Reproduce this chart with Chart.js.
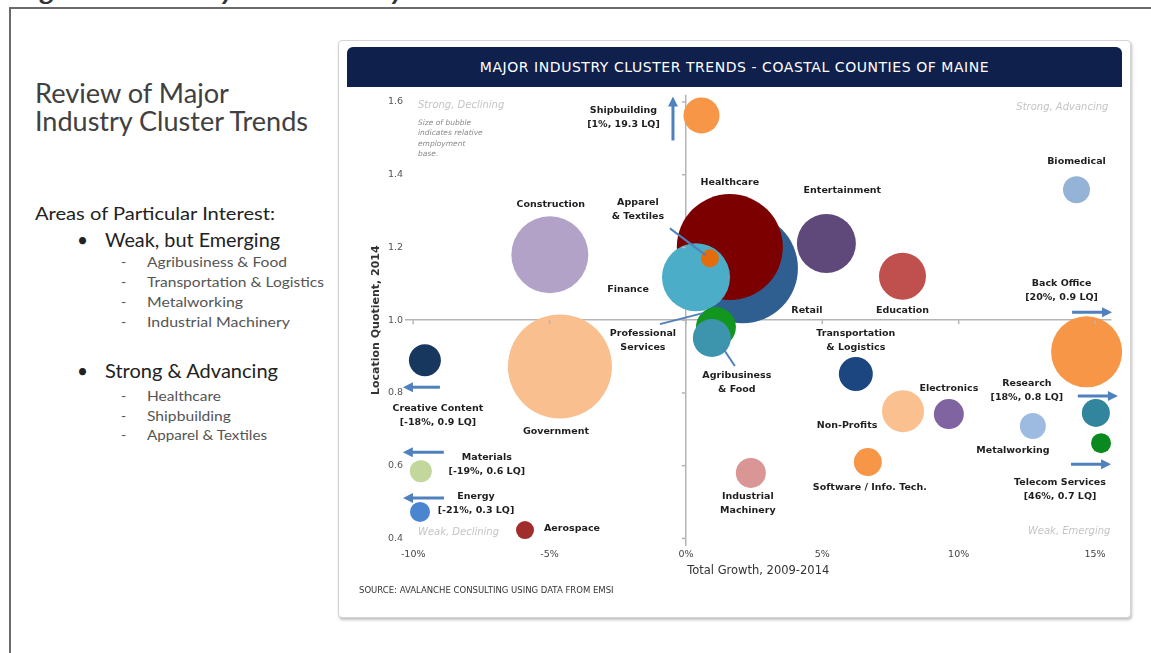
<!DOCTYPE html>
<html>
<head>
<meta charset="utf-8">
<title>Industry Cluster Analysis</title>
<script src="https://cdn.jsdelivr.net/npm/chart.js@4.4.1/dist/chart.umd.min.js"></script>
<style>
  html, body { margin: 0; padding: 0; background: #fff; }
  body { width: 1151px; height: 653px; position: relative; overflow: hidden; }
  #marco { position: absolute; left: 9px; top: 7px; width: 1160px; height: 660px; border-left: 2px solid #6a6a6a; border-top: 2px solid #6a6a6a; }
  #lado { position: absolute; left: 0; top: 0; }
  #tarjeta { position: absolute; left: 338px; top: 40px; width: 791px; height: 576px; border: 1px solid #d4d4d4; border-radius: 4px; box-shadow: 1px 2px 3px rgba(0,0,0,0.25); background: #fff; }
  #cabecera { position: absolute; left: 347px; top: 47px; width: 775px; height: 40px; background: #10204d; border-radius: 6px 6px 0 0; color: #fff; font: 14px "DejaVu Sans", sans-serif; letter-spacing: 0.55px; text-align: center; line-height: 40px; }
  #lienzo { position: absolute; left: 346px; top: 87px; }
</style>
</head>
<body>
<div id="marco"></div>
<svg id="lado" width="1151" height="653" font-family="Lato, sans-serif">
  <text x="18" y="0" font-size="24" font-weight="bold" font-style="italic" fill="#333" textLength="417" lengthAdjust="spacingAndGlyphs">Figure 1: Industry Cluster Analysis</text>
  <text x="35" y="103" font-size="26" fill="#404040" textLength="194" lengthAdjust="spacingAndGlyphs">Review of Major</text>
  <text x="35" y="131" font-size="26" fill="#404040" textLength="273" lengthAdjust="spacingAndGlyphs">Industry Cluster Trends</text>
  <text x="35" y="220" font-size="17.5" fill="#222" textLength="240" lengthAdjust="spacingAndGlyphs">Areas of Particular Interest:</text>
  <text x="77" y="247" font-size="19" fill="#222">•</text>
  <text x="105" y="247" font-size="19" fill="#222" textLength="175" lengthAdjust="spacingAndGlyphs">Weak, but Emerging</text>
  <g font-size="14" fill="#555">
    <text x="121" y="267">-</text><text x="147" y="267" textLength="140" lengthAdjust="spacingAndGlyphs">Agribusiness &amp; Food</text>
    <text x="121" y="287">-</text><text x="147" y="287" textLength="177" lengthAdjust="spacingAndGlyphs">Transportation &amp; Logistics</text>
    <text x="121" y="307">-</text><text x="147" y="307" textLength="96" lengthAdjust="spacingAndGlyphs">Metalworking</text>
    <text x="121" y="327">-</text><text x="147" y="327" textLength="143" lengthAdjust="spacingAndGlyphs">Industrial Machinery</text>
  </g>
  <text x="77" y="378" font-size="19" fill="#222">•</text>
  <text x="105" y="378" font-size="19" fill="#222" textLength="173" lengthAdjust="spacingAndGlyphs">Strong &amp; Advancing</text>
  <g font-size="14" fill="#555">
    <text x="121" y="401">-</text><text x="147" y="401" textLength="74" lengthAdjust="spacingAndGlyphs">Healthcare</text>
    <text x="121" y="421">-</text><text x="147" y="421" textLength="84" lengthAdjust="spacingAndGlyphs">Shipbuilding</text>
    <text x="121" y="440">-</text><text x="147" y="440" textLength="120" lengthAdjust="spacingAndGlyphs">Apparel &amp; Textiles</text>
  </g>
</svg>
<div id="tarjeta"></div>
<div id="cabecera">MAJOR INDUSTRY CLUSTER TRENDS - COASTAL COUNTIES OF MAINE</div>
<canvas id="lienzo" width="776" height="525"></canvas>
<script>
// Datos (crecimiento total %, cociente de localizacion, tamano de burbuja)
const grupos = ['Retail', 'Healthcare', 'Finance', 'Apparel & Textiles', 'Professional Services',
  'Agribusiness & Food', 'Shipbuilding', 'Entertainment', 'Education', 'Biomedical', 'Back Office',
  'Transportation & Logistics', 'Non-Profits', 'Electronics', 'Research', 'Metalworking',
  'Telecom Services', 'Software / Info. Tech.', 'Industrial Machinery', 'Construction', 'Government',
  'Creative Content', 'Materials', 'Energy', 'Aerospace'];
const crecimiento = [2.09, 1.61, 0.37, 0.88, 1.10, 0.95, 0.57, 5.15, 7.94, 14.32, 14.69,
  6.23, 7.96, 9.64, 15.03, 12.72, 15.22, 6.67, 2.38, -4.99, -4.62, -9.57, -9.72, -9.75, -5.90];
const cocienteLQ = [1.143, 1.201, 1.118, 1.170, 0.981, 0.951, 1.563, 1.211, 1.121, 1.359, 0.913,
  0.852, 0.750, 0.742, 0.745, 0.709, 0.662, 0.610, 0.580, 1.180, 0.873, 0.890, 0.585, 0.473, 0.423];
const tamano = [55, 53, 34, 9, 20, 19, 18, 29.5, 23.5, 13.5, 35.5, 17, 21, 15, 14, 13, 10, 14, 15,
  38.5, 52, 16, 11, 10, 9];
const ticksX = [-10, -5, 0, 5, 10, 15];
const ticksY = [0.4, 0.6, 0.8, 1.0, 1.2, 1.4, 1.6];

const colores = ['#2f5f90', '#7d0000', '#4badc8', '#e46c0a', '#12961f', '#3d94ad', '#f79646',
  '#5f497a', '#c0504d', '#95b3d7', '#f79646', '#1c4680', '#fac090', '#8064a2', '#31859c',
  '#9dbbe0', '#0a8a1e', '#f79646', '#d99694', '#b3a2c7', '#fabf8f', '#17375e', '#c3d69b',
  '#4a86d0', '#a02c2c'];

// Textos de cada burbuja y su desplazamiento (px) respecto al centro
const etiquetas = [
  { t: ['Retail'], dx: 64, dy: 42 },
  { t: ['Healthcare'], dx: 0, dy: -65 },
  { t: ['Finance'], dx: -68, dy: 12 },
  { t: ['Apparel', '& Textiles'], dx: -72, dy: -56 },
  { t: ['Professional', 'Services'], dx: -73, dy: 6 },
  { t: ['Agribusiness', '& Food'], dx: 25, dy: 38 },
  { t: ['Shipbuilding', '[1%, 19.3 LQ]'], dx: -78, dy: -5 },
  { t: ['Entertainment'], dx: 16, dy: -53 },
  { t: ['Education'], dx: 0, dy: 34 },
  { t: ['Biomedical'], dx: 0, dy: -28 },
  { t: ['Back Office', '[20%, 0.9 LQ]'], dx: -25, dy: -68 },
  { t: ['Transportation', '& Logistics'], dx: 0, dy: -40 },
  { t: ['Non-Profits'], dx: -56, dy: 14 },
  { t: ['Electronics'], dx: 0, dy: -26 },
  { t: ['Research', '[18%, 0.8 LQ]'], dx: -69, dy: -29 },
  { t: ['Metalworking'], dx: -20, dy: 24 },
  { t: ['Telecom Services', '[46%, 0.7 LQ]'], dx: -41, dy: 39 },
  { t: ['Software / Info. Tech.'], dx: 2, dy: 25 },
  { t: ['Industrial', 'Machinery'], dx: -3, dy: 24 },
  { t: ['Construction'], dx: 1, dy: -50 },
  { t: ['Government'], dx: -4, dy: 65 },
  { t: ['Creative Content', '[-18%, 0.9 LQ]'], dx: 13, dy: 48 },
  { t: ['Materials', '[-19%, 0.6 LQ]'], dx: 66, dy: -14 },
  { t: ['Energy', '[-21%, 0.3 LQ]'], dx: 56, dy: -15 },
  { t: ['Aerospace'], dx: 19, dy: -2, izq: true }
];

// Flechas (fuera de escala) y lineas guia, relativas al centro de la burbuja
const flechas = [
  { g: 'Shipbuilding', a: [-28.5, 25], b: [-28.5, -19] },
  { g: 'Creative Content', a: [15, 27], b: [-22, 27] },
  { g: 'Materials', a: [23, -19], b: [-18, -19] },
  { g: 'Energy', a: [24, -14], b: [-17, -14] },
  { g: 'Back Office', a: [-14.5, -39.5], b: [25.5, -39.5] },
  { g: 'Research', a: [-18, -17], b: [22, -17] },
  { g: 'Telecom Services', a: [-30, 21], b: [10, 21] }
];
const guias = [
  { g: 'Apparel & Textiles', a: [-40, -30], b: [-4, -3] },
  { g: 'Professional Services', a: [-56, -3], b: [-13, -14] },
  { g: 'Agribusiness & Food', a: [11, 10], b: [23, 28] }
];

const anotaciones = {
  id: 'anotaciones',
  afterDatasetsDraw(chart) {
    const { ctx, chartArea: area, scales: { x, y } } = chart;
    const puntos = chart.getDatasetMeta(0).data;
    const x0 = x.getPixelForValue(0);
    const y1 = y.getPixelForValue(1);
    ctx.save();

    // marcas pequenas sobre los ejes cruzados
    ctx.strokeStyle = '#b5b5b5';
    ctx.lineWidth = 1.5;
    ticksY.forEach(v => {
      const py = y.getPixelForValue(v);
      ctx.beginPath(); ctx.moveTo(x0 - 4, py); ctx.lineTo(x0, py); ctx.stroke();
    });
    ticksX.forEach(v => {
      const px = x.getPixelForValue(v);
      ctx.beginPath(); ctx.moveTo(px, y1); ctx.lineTo(px, y1 + 4); ctx.stroke();
    });

    // lineas guia
    ctx.strokeStyle = '#4f81bd';
    ctx.lineWidth = 2;
    guias.forEach(l => {
      const p = puntos[grupos.indexOf(l.g)];
      ctx.beginPath();
      ctx.moveTo(p.x + l.a[0], p.y + l.a[1]);
      ctx.lineTo(p.x + l.b[0], p.y + l.b[1]);
      ctx.stroke();
    });

    // flechas
    ctx.fillStyle = '#4f81bd';
    ctx.lineWidth = 3;
    flechas.forEach(f => {
      const p = puntos[grupos.indexOf(f.g)];
      const ax = p.x + f.a[0], ay = p.y + f.a[1], bx = p.x + f.b[0], by = p.y + f.b[1];
      const ang = Math.atan2(by - ay, bx - ax);
      ctx.beginPath();
      ctx.moveTo(ax, ay);
      ctx.lineTo(bx - 7 * Math.cos(ang), by - 7 * Math.sin(ang));
      ctx.stroke();
      ctx.beginPath();
      ctx.moveTo(bx, by);
      ctx.lineTo(bx - 10 * Math.cos(ang) + 5 * Math.sin(ang), by - 10 * Math.sin(ang) - 5 * Math.cos(ang));
      ctx.lineTo(bx - 10 * Math.cos(ang) - 5 * Math.sin(ang), by - 10 * Math.sin(ang) + 5 * Math.cos(ang));
      ctx.closePath();
      ctx.fill();
    });

    // textos de las burbujas
    ctx.fillStyle = '#1e1e1e';
    ctx.font = 'bold 9.5px "DejaVu Sans"';
    ctx.textBaseline = 'middle';
    etiquetas.forEach((e, i) => {
      const p = puntos[i];
      ctx.textAlign = e.izq ? 'left' : 'center';
      e.t.forEach((linea, k) => ctx.fillText(linea, p.x + e.dx, p.y + e.dy + k * 14));
    });

    // cuadrantes y nota
    ctx.fillStyle = '#c4c4c4';
    ctx.font = 'oblique 10px "DejaVu Sans"';
    ctx.textAlign = 'left';
    ctx.fillText('Strong, Declining', area.left + 13, area.top + 11);
    ctx.fillText('Weak, Declining', area.left + 13, area.bottom - 13);
    ctx.textAlign = 'right';
    ctx.fillText('Strong, Advancing', area.right - 3, area.top + 13);
    ctx.fillText('Weak, Emerging', area.right - 1, area.bottom - 14);
    ctx.fillStyle = '#8a8a8a';
    ctx.font = 'oblique 7.5px "DejaVu Sans"';
    ctx.textAlign = 'left';
    ['Size of bubble', 'indicates relative', 'employment', 'base.'].forEach((s, k) =>
      ctx.fillText(s, area.left + 13, area.top + 28 + k * 10.5));

    // fuente
    ctx.fillStyle = '#333';
    ctx.font = '8.5px "DejaVu Sans"';
    ctx.fillText('SOURCE: AVALANCHE CONSULTING USING DATA FROM EMSI', 13, area.bottom + 45);
    ctx.restore();
  }
};

new Chart(document.getElementById('lienzo'), {
  type: 'bubble',
  data: {
    labels: grupos,
    datasets: [{
      data: grupos.map((g, i) => ({ x: crecimiento[i], y: cocienteLQ[i], r: tamano[i] })),
      backgroundColor: colores,
      borderColor: colores,
      borderWidth: 0,
      hoverRadius: 0,
      clip: false
    }]
  },
  options: {
    responsive: false,
    animation: false,
    events: [],
    layout: { autoPadding: false, padding: { top: 7.3, right: 10.6, left: 0, bottom: 0 } },
    plugins: { legend: { display: false }, tooltip: { enabled: false } },
    scales: {
      x: {
        type: 'linear', min: -10.3, max: 15.6,
        afterBuildTicks: s => { s.ticks = ticksX.map(v => ({ value: v })); },
        afterFit: s => { s.height = 66.3; },
        grid: { color: c => (c.tick && c.tick.value === 0) ? '#b5b5b5' : 'rgba(0,0,0,0)', lineWidth: 1.5, drawTicks: false },
        border: { display: false },
        ticks: { padding: 3, color: '#444', font: { family: 'DejaVu Sans', size: 9.5 }, callback: v => v + '%' },
        title: { display: true, text: 'Total Growth, 2009-2014', color: '#333', font: { family: 'DejaVu Sans', size: 11.5 }, padding: { top: 0, bottom: 34 } }
      },
      y: {
        type: 'linear', min: 0.38, max: 1.62,
        afterBuildTicks: s => { s.ticks = ticksY.map(v => ({ value: v })); },
        afterFit: s => { s.width = 59; },
        grid: { color: c => (c.tick && Math.abs(c.tick.value - 1) < 1e-6) ? '#b5b5b5' : 'rgba(0,0,0,0)', lineWidth: 1.5, drawTicks: false },
        border: { display: false },
        ticks: { padding: 2, color: '#555', font: { family: 'DejaVu Sans', size: 9.5 }, callback: v => v.toFixed(1) },
        title: { display: true, text: 'Location Quotient, 2014', color: '#333', font: { family: 'DejaVu Sans', size: 11, weight: 'bold' }, padding: { top: 23.4, bottom: 0 } }
      }
    }
  },
  plugins: [anotaciones]
});
</script>
</body>
</html>
